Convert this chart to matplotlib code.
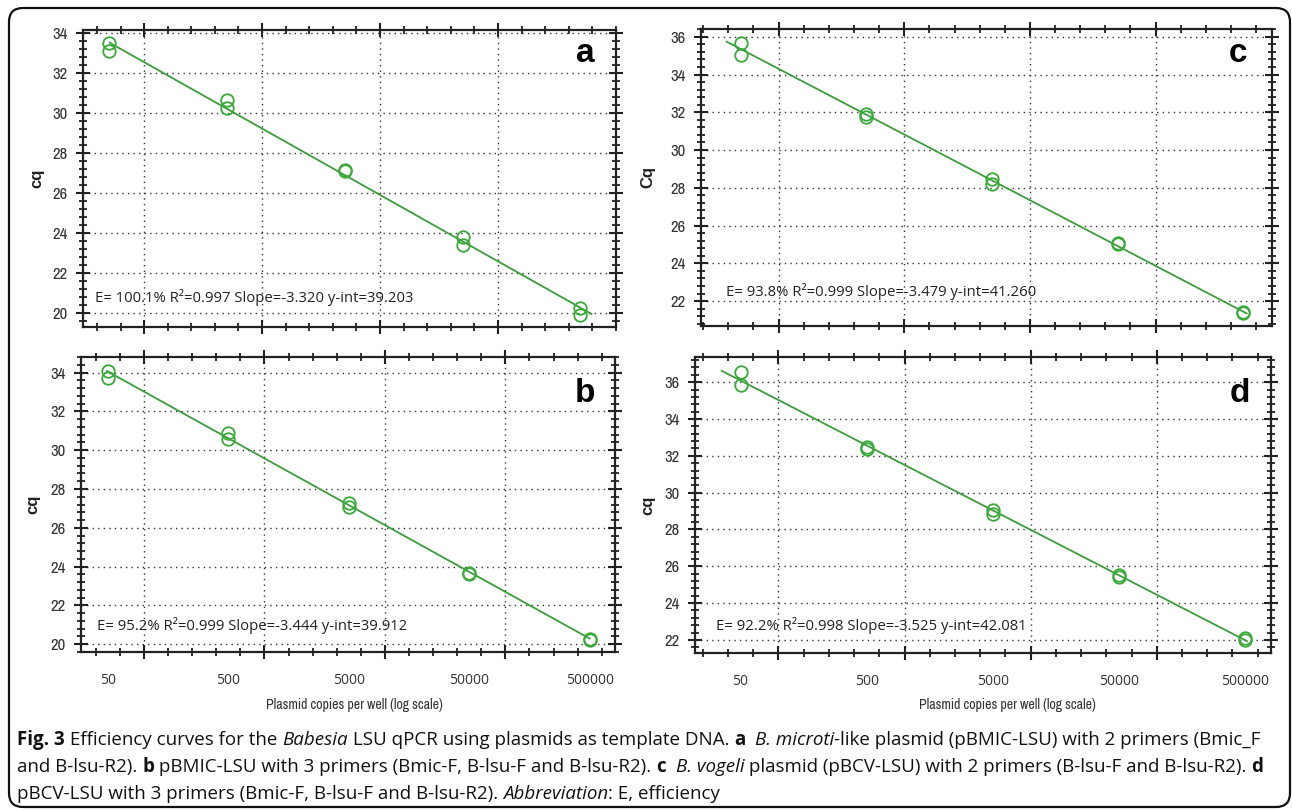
import numpy as np
import matplotlib
matplotlib.use('Agg')
import matplotlib.pyplot as plt
from matplotlib.ticker import FixedLocator, NullFormatter, MultipleLocator
from matplotlib.patches import FancyBboxPatch
from matplotlib.transforms import IdentityTransform

W, H = 1292, 810
plt.rcParams['font.family'] = ['Open Sans', 'DejaVu Sans']
NARROW = ['Liberation Sans Narrow', 'Archivo Narrow', 'Open Sans', 'DejaVu Sans']

# ---------------- data ----------------
copies = [50, 500, 5000, 50000, 500000]
x_tick_labels = ['50', '500', '5000', '50000', '500000']

cq_a_rep1 = [33.53, 30.67, 27.15, 23.83, 20.25]
cq_a_rep2 = [33.13, 30.25, 27.10, 23.42, 19.92]
cq_b_rep1 = [34.10, 30.87, 27.26, 23.68, 20.26]
cq_b_rep2 = [33.71, 30.56, 27.05, 23.61, 20.20]
cq_c_rep1 = [35.68, 31.89, 28.46, 25.09, 21.43]
cq_c_rep2 = [35.03, 31.73, 28.20, 25.00, 21.38]
cq_d_rep1 = [36.58, 32.47, 29.06, 25.53, 22.09]
cq_d_rep2 = [35.86, 32.36, 28.85, 25.44, 22.00]

slopes = [-3.320, -3.444, -3.479, -3.525]
intercepts = [39.203, 39.912, 41.260, 42.081]
efficiencies = ['100.1%', '95.2%', '93.8%', '92.2%']
r_squared = ['0.997', '0.999', '0.999', '0.998']
fit_start = [51, 49, 38.6, 35.5]
fit_end = [6.2e5, 5.0e5, 5.3e5, 5.2e5]
panel_letters = ['a', 'b', 'c', 'd']
y_labels = ['cq', 'cq', 'Cq', 'cq']
y_ticks_ab = [20, 22, 24, 26, 28, 30, 32, 34]
y_ticks_cd = [22, 24, 26, 28, 30, 32, 34, 36]
x_label = 'Plasmid copies per well (log scale)'

reps = [(cq_a_rep1, cq_a_rep2), (cq_b_rep1, cq_b_rep2),
        (cq_c_rep1, cq_c_rep2), (cq_d_rep1, cq_d_rep2)]
y_ticks = [y_ticks_ab, y_ticks_ab, y_ticks_cd, y_ticks_cd]

# ---------------- layout (pixels) ----------------
rects = [(83, 30, 616, 327), (81, 357, 615, 652), (701, 29, 1272, 326), (695, 357, 1271, 653)]
xlims_log = [(1.482, 6.0), (1.477, 5.91), (1.383, 5.926), (1.338, 5.906)]
ylims = [(19.32, 34.17), (19.59, 34.81), (20.68, 36.41), (21.29, 37.37)]
stat_pos = [(95, 297), (97, 625), (726, 292), (716, 626)]
letter_pos = [(585, 53), (585, 393), (1238, 53), (1240, 393)]
ylabel_x = [37, 33, 648, 648]
show_xlabels = [False, True, False, True]
xlabel_pos = [None, (354, 705), None, (1007, 705)]

GREEN = '#3aa83a'
LINE_GREEN = '#3c9c3c'

fig = plt.figure(figsize=(W / 100, H / 100), dpi=100)
fig.patch.set_facecolor('white')

# outer rounded frame
frame = FancyBboxPatch((9, H - 807), 1281, 799, boxstyle='round,pad=0,rounding_size=14',
                       transform=IdentityTransform(), fill=False, edgecolor='#111111', lw=1.6)
fig.patches.append(frame)

minor_x = [10 ** (k / 5) for k in range(5, 32)]

for i in range(4):
    l, t, r, b = rects[i]
    ax = fig.add_axes([l / W, 1 - b / H, (r - l) / W, (b - t) / H])
    ax.set_xscale('log')
    ax.set_xlim(10 ** xlims_log[i][0], 10 ** xlims_log[i][1])
    ax.set_ylim(*ylims[i])

    # fit line
    xf = np.array([fit_start[i], fit_end[i]])
    yf = slopes[i] * np.log10(xf) + intercepts[i]
    ax.plot(xf, yf, color=LINE_GREEN, lw=1.3, zorder=3)

    r1, r2 = reps[i]
    for rep in (r1, r2):
        ax.plot(copies, rep, linestyle='none', marker='o', ms=9, mfc='none',
                mec=GREEN, mew=1.3, zorder=4)

    ax.xaxis.set_major_locator(FixedLocator([1e2, 1e3, 1e4, 1e5]))
    ax.xaxis.set_major_formatter(NullFormatter())
    ax.xaxis.set_minor_locator(FixedLocator(minor_x))
    ax.xaxis.set_minor_formatter(NullFormatter())
    ax.yaxis.set_major_locator(FixedLocator(y_ticks[i]))
    ax.yaxis.set_minor_locator(MultipleLocator(0.4))

    ax.grid(True, which='major', linestyle=(0, (1, 3)), color='#333333', lw=1.0)
    ax.set_axisbelow(True)
    for sp in ax.spines.values():
        sp.set_color('#222222')
        sp.set_linewidth(1.6)
    ax.tick_params(which='major', direction='inout', length=10, width=1.5,
                   top=True, right=True, colors='#222222')
    ax.tick_params(which='minor', direction='inout', length=6, width=1.3,
                   top=True, right=True, colors='#222222')
    ax.tick_params(axis='y', which='major', pad=6)
    for lab in ax.get_yticklabels():
        lab.set_family(NARROW)
        lab.set_fontsize(12)
        lab.set_color('#333333')

    if show_xlabels[i]:
        sec = ax.secondary_xaxis('bottom')
        sec.set_xticks(copies, x_tick_labels)
        sec.xaxis.set_minor_locator(FixedLocator([]))
        sec.tick_params(length=0, pad=15, labelsize=10, labelcolor='#333333')
        sec.spines['bottom'].set_visible(False)
        xp, yp = xlabel_pos[i]
        fig.text(xp / W, 1 - yp / H, x_label, ha='center', va='center', fontsize=10,
                 family=NARROW, color='#333333')

    # y label
    fig.text(ylabel_x[i] / W, 1 - (t + b) / 2 / H, y_labels[i], rotation=90,
             ha='center', va='center', fontsize=12, fontweight='bold',
             family=['Liberation Sans', 'DejaVu Sans'], color='#222222')

    stat = (f'E= {efficiencies[i]} R\u00b2={r_squared[i]} '
            f'Slope={slopes[i]:.3f} y-int={intercepts[i]:.3f}')
    fig.text(stat_pos[i][0] / W, 1 - stat_pos[i][1] / H, stat, ha='left', va='center',
             fontsize=10.7, color='#222222')
    fig.text(letter_pos[i][0] / W, 1 - letter_pos[i][1] / H, panel_letters[i],
             ha='center', va='center', fontsize=24, fontweight='bold',
             family=['Liberation Sans', 'DejaVu Sans'], color='black')

# ---------------- caption ----------------
caption_lines = [
    [('Fig. 3', 'bold', 'normal'), (' Efficiency curves for the ', 'normal', 'normal'),
     ('Babesia', 'normal', 'italic'), (' LSU qPCR using plasmids as template DNA. ', 'normal', 'normal'),
     ('a', 'bold', 'normal'), ('  ', 'normal', 'normal'), ('B. microti', 'normal', 'italic'),
     ('-like plasmid (pBMIC-LSU) with 2 primers (Bmic_F', 'normal', 'normal')],
    [('and B-lsu-R2). ', 'normal', 'normal'), ('b', 'bold', 'normal'),
     (' pBMIC-LSU with 3 primers (Bmic-F, B-lsu-F and B-lsu-R2). ', 'normal', 'normal'),
     ('c', 'bold', 'normal'), ('  ', 'normal', 'normal'), ('B. vogeli', 'normal', 'italic'),
     (' plasmid (pBCV-LSU) with 2 primers (B-lsu-F and B-lsu-R2). ', 'normal', 'normal'),
     ('d', 'bold', 'normal')],
    [('pBCV-LSU with 3 primers (Bmic-F, B-lsu-F and B-lsu-R2). ', 'normal', 'normal'),
     ('Abbreviation', 'normal', 'italic'), (': E, efficiency', 'normal', 'normal')],
]
caption_baselines = [745, 772, 799]
CAP_SIZE = 13.5
renderer = fig.canvas.get_renderer()


def text_width(s, weight, style):
    t1 = fig.text(0, 0, '|' + s + '|', fontsize=CAP_SIZE, weight=weight, style=style)
    t2 = fig.text(0, 0, '||', fontsize=CAP_SIZE, weight=weight, style=style)
    w = t1.get_window_extent(renderer).width - t2.get_window_extent(renderer).width
    t1.remove()
    t2.remove()
    return w


for line, yb in zip(caption_lines, caption_baselines):
    x = 17
    for s, weight, style in line:
        fig.text(x / W, 1 - yb / H, s, fontsize=CAP_SIZE, weight=weight, style=style,
                 ha='left', va='baseline', color='#111111')
        x += text_width(s, weight, style)

fig.savefig('out.png', dpi=100)
